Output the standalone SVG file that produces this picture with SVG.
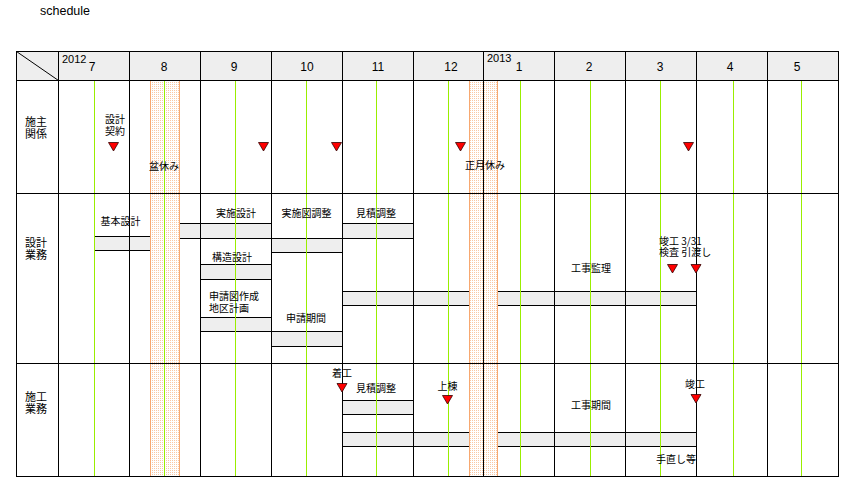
<svg xmlns="http://www.w3.org/2000/svg" width="850" height="500" viewBox="0 0 850 500">
<style>
.t{font-family:"Noto Sans CJK JP","Liberation Sans",sans-serif;font-size:10px;fill:#000}
.lab{font-family:"Noto Sans CJK JP","Liberation Sans",sans-serif;font-size:11px;fill:#000}
.m{font-family:"Liberation Sans",Arial,sans-serif;font-size:12px;fill:#000;text-anchor:middle}
.y{font-family:"Liberation Sans",Arial,sans-serif;font-size:11px;fill:#000}
.bar{fill:#eeeeee;stroke:#000;stroke-width:1}
.grid{stroke:#000;stroke-width:1;fill:none}
.green{stroke:#99ee00;stroke-width:1}
.band{fill:url(#dots);stroke:#f7a870;stroke-width:1}
.mk{fill:#ff0000;stroke:#300;stroke-width:0.8}
</style>
<defs>
<pattern id="dots" x="0" y="0" width="2" height="2" patternUnits="userSpaceOnUse">
<rect width="2" height="2" fill="#ffffff"/>
<rect width="1" height="1" fill="#f9c8a4"/>
</pattern>
</defs>
<rect width="850" height="500" fill="#ffffff"/>
<text x="40" y="15" font-family="Liberation Sans, Arial, sans-serif" font-size="12.5" fill="#000">schedule</text>

<!-- header background -->
<rect x="16.5" y="51.5" width="822" height="29" fill="#eeeeee"/>

<!-- bars -->
<g id="bars">
<rect id="b-kihon" class="bar" x="94.5" y="236.5" width="56" height="14"/>
<rect id="b-jisshi" class="bar" x="160.5" y="223.5" width="111" height="15"/>
<rect id="b-kozo" class="bar" x="200.5" y="264.5" width="71" height="15"/>
<rect id="b-shinsei" class="bar" x="200.5" y="317.5" width="71" height="14"/>
<rect id="b-jisshizu" class="bar" x="271.5" y="238.5" width="71" height="14"/>
<rect id="b-mitsumori1" class="bar" x="342.5" y="223.5" width="71" height="15"/>
<rect id="b-kikan" class="bar" x="271.5" y="331.5" width="71" height="15"/>
<rect id="b-kanri" class="bar" x="342.5" y="291.5" width="354" height="14"/>
<rect id="b-mitsumori2" class="bar" x="342.5" y="400.5" width="71" height="14"/>
<rect id="b-koji" class="bar" x="342.5" y="432.5" width="354" height="14"/>
</g>

<!-- holiday bands -->
<g id="holidays">
<rect class="band" x="150.5" y="80.5" width="29" height="396"/>
<rect class="band" x="469.5" y="80.5" width="28" height="396"/>
</g>

<!-- green mid-month lines -->
<g id="midlines">
<line class="green" x1="94.5" y1="81" x2="94.5" y2="476"/>
<line class="green" x1="164.5" y1="81" x2="164.5" y2="476"/>
<line class="green" x1="235.5" y1="81" x2="235.5" y2="476"/>
<line class="green" x1="306.5" y1="81" x2="306.5" y2="476"/>
<line class="green" x1="376.5" y1="81" x2="376.5" y2="476"/>
<line class="green" x1="448.5" y1="81" x2="448.5" y2="476"/>
<line class="green" x1="520.5" y1="81" x2="520.5" y2="476"/>
<line class="green" x1="590.5" y1="81" x2="590.5" y2="476"/>
<line class="green" x1="660.5" y1="81" x2="660.5" y2="476"/>
<line class="green" x1="733.5" y1="81" x2="733.5" y2="476"/>
<line class="green" x1="801.5" y1="81" x2="801.5" y2="476"/>
</g>

<!-- grid -->
<g id="grid">
<rect class="grid" x="16.5" y="51.5" width="822" height="425"/>
<line class="grid" x1="16.5" y1="80.5" x2="838.5" y2="80.5"/>
<line class="grid" x1="16.5" y1="193.5" x2="838.5" y2="193.5"/>
<line class="grid" x1="16.5" y1="363.5" x2="838.5" y2="363.5"/>
<line class="grid" x1="16.5" y1="51.5" x2="58.5" y2="80.5"/>
<line class="grid" x1="58.5" y1="51.5" x2="58.5" y2="476.5"/>
<line class="grid" x1="129.5" y1="51.5" x2="129.5" y2="476.5"/>
<line class="grid" x1="200.5" y1="51.5" x2="200.5" y2="476.5"/>
<line class="grid" x1="271.5" y1="51.5" x2="271.5" y2="476.5"/>
<line class="grid" x1="342.5" y1="51.5" x2="342.5" y2="476.5"/>
<line class="grid" x1="413.5" y1="51.5" x2="413.5" y2="476.5"/>
<line class="grid" x1="483.5" y1="51.5" x2="483.5" y2="476.5"/>
<line class="grid" x1="554.5" y1="51.5" x2="554.5" y2="476.5"/>
<line class="grid" x1="625.5" y1="51.5" x2="625.5" y2="476.5"/>
<line class="grid" x1="696.5" y1="51.5" x2="696.5" y2="476.5"/>
<line class="grid" x1="767.5" y1="51.5" x2="767.5" y2="476.5"/>
</g>

<!-- header texts -->
<g id="header">
<text class="y" x="62" y="63">2012</text>
<text class="y" x="487" y="62">2013</text>
<text class="m" x="92" y="71">7</text>
<text class="m" x="164" y="71">8</text>
<text class="m" x="234" y="71">9</text>
<text class="m" x="307" y="71">10</text>
<text class="m" x="378" y="71">11</text>
<text class="m" x="451" y="71">12</text>
<text class="m" x="519" y="71">1</text>
<text class="m" x="589" y="71">2</text>
<text class="m" x="660" y="71">3</text>
<text class="m" x="730" y="71">4</text>
<text class="m" x="797" y="71">5</text>
</g>

<!-- row labels -->
<g id="rowlabels">
<text class="lab" x="25" y="125.5"><tspan x="25">施主</tspan><tspan x="25" dy="12.8">関係</tspan></text>
<text class="lab" x="25" y="246.5"><tspan x="25">設計</tspan><tspan x="25" dy="12.8">業務</tspan></text>
<text class="lab" x="25" y="400.5"><tspan x="25">施工</tspan><tspan x="25" dy="12.8">業務</tspan></text>
</g>

<!-- labels -->
<g id="labels">
<text class="t" x="105" y="123"><tspan x="105">設計</tspan><tspan x="105" dy="11.5">契約</tspan></text>
<text class="t" x="149" y="170">盆休み</text>
<text class="t" x="465" y="168.5">正月休み</text>
<text class="t" x="100.5" y="224.5">基本設計</text>
<text class="t" x="216" y="216.5">実施設計</text>
<text class="t" x="212" y="260.5">構造設計</text>
<text class="t" x="209" y="300"><tspan x="209">申請図作成</tspan><tspan x="209" dy="11.5">地区計画</tspan></text>
<text class="t" x="281.5" y="216.5">実施図調整</text>
<text class="t" x="356" y="216.5">見積調整</text>
<text class="t" x="286" y="322">申請期間</text>
<text class="t" x="571" y="271.5">工事監理</text>
<text class="t" x="659" y="244.5"><tspan x="659">竣工 3/31</tspan><tspan x="659" dy="11.5">検査 引渡し</tspan></text>
<text class="t" x="332" y="377">着工</text>
<text class="t" x="356" y="392">見積調整</text>
<text class="t" x="437.5" y="390">上棟</text>
<text class="t" x="571" y="409">工事期間</text>
<text class="t" x="685" y="388">竣工</text>
<text class="t" x="656" y="463">手直し等</text>
</g>

<!-- milestone markers -->
<g id="markers">
<polygon class="mk" points="108.5,142.5 118.5,142.5 113.5,151"/>
<polygon class="mk" points="258.5,142.5 268.5,142.5 263.5,151"/>
<polygon class="mk" points="331.5,142.5 341.5,142.5 336.5,151"/>
<polygon class="mk" points="455.5,142.5 465.5,142.5 460.5,151"/>
<polygon class="mk" points="683.5,142.5 693.5,142.5 688.5,151"/>
<polygon class="mk" points="667.5,264.5 677.5,264.5 672.5,273"/>
<polygon class="mk" points="691,264.5 701,264.5 696,273"/>
<polygon class="mk" points="337,383.5 347,383.5 342,392"/>
<polygon class="mk" points="442.5,395.5 452.5,395.5 447.5,404"/>
<polygon class="mk" points="691,394.5 701,394.5 696,403"/>
</g>
</svg>
